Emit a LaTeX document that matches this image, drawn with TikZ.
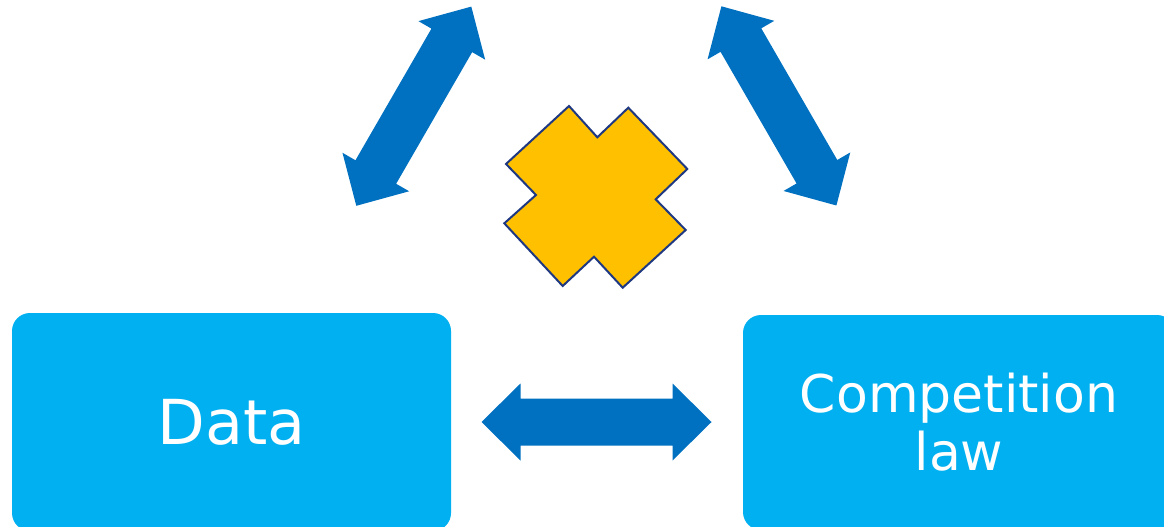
\documentclass[tikz,border=0pt]{standalone}
\usepackage{fontspec}
\setmainfont{DejaVu Sans}
\definecolor{boxcyan}{HTML}{00B0F0}
\definecolor{arrowblue}{HTML}{0070C0}
\definecolor{crossgold}{HTML}{FFC000}
\definecolor{crossline}{RGB}{31,56,130}
\tikzset{
  textbox/.style={fill=boxcyan, draw=none, rounded corners=18pt, text=white, align=center, inner sep=0pt},
  blockarrow/.style={fill=arrowblue, draw=none},
}
\newcommand{\dblarrowpath}{(-115,0) -- (-76,38.5) -- (-76,23.5) -- (76,23.5) -- (76,38.5) -- (115,0) -- (76,-38.5) -- (76,-23.5) -- (-76,-23.5) -- (-76,-38.5) -- cycle}
\begin{document}
\begin{tikzpicture}[x=1pt,y=-1pt]
\useasboundingbox (0,0) rectangle (1164,527);
% boxes
\node[textbox, minimum width=439pt, minimum height=218pt, font=\fontsize{62}{70}\selectfont] (data) at (231.5,422) {Data};
\node[textbox, minimum width=432pt, minimum height=215pt, font=\fontsize{52}{58}\selectfont] (comp) at (959,422.5) {Competition\\law};
% arrows
\begin{scope}[shift={(596.5,422)}]
  \fill[blockarrow] \dblarrowpath;
\end{scope}
\begin{scope}[shift={(413.8,106.2)}, rotate=60]
  \fill[blockarrow] \dblarrowpath;
\end{scope}
\begin{scope}[shift={(778.9,105.9)}, rotate=-60]
  \fill[blockarrow] \dblarrowpath;
\end{scope}
% cross
\filldraw[fill=crossgold, draw=crossline, line width=2pt, line join=miter]
  (569,106) -- (597.3,137.3) -- (628.3,107.7) -- (687.3,169) -- (655.7,199.3) -- (685.7,230)
  -- (622.7,287.7) -- (594,256.7) -- (562.7,286) -- (504.3,223.3) -- (536,195) -- (506,164) -- cycle;
\end{tikzpicture}
\end{document}
